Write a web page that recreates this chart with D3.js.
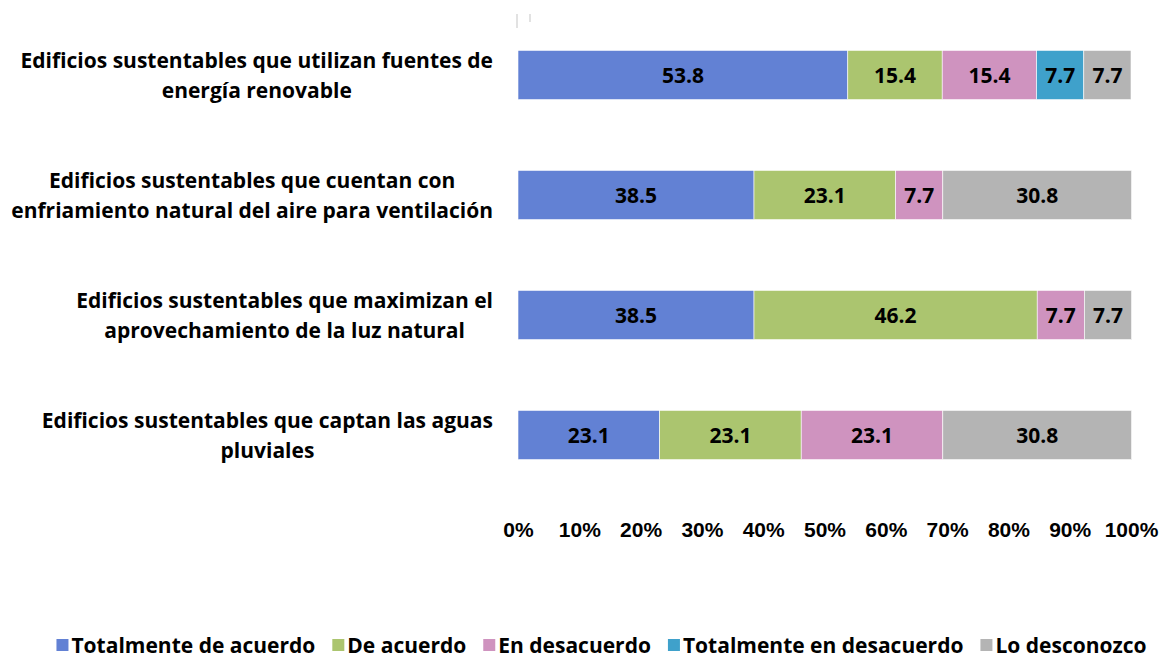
<!DOCTYPE html>
<html>
<head>
<meta charset="utf-8">
<script src="https://cdn.jsdelivr.net/npm/d3@7"></script>
<style>
  body { margin: 0; background: #fff; }
  svg { display: block; font-family: "Open Sans", sans-serif; font-weight: bold; }
</style>
</head>
<body>
<svg id="chart" width="1165" height="660"></svg>
<script>
const categories = [
    ["Edificios sustentables que utilizan fuentes de", "energía renovable"],
    ["Edificios sustentables que cuentan con", "enfriamiento natural del aire para ventilación"],
    ["Edificios sustentables que maximizan el", "aprovechamiento de la luz natural"],
    ["Edificios sustentables que captan las aguas", "pluviales"]
];
const seriesNames = ["Totalmente de acuerdo", "De acuerdo", "En desacuerdo", "Totalmente en desacuerdo", "Lo desconozco"];
const seriesColors = ["#6281d4", "#abc56f", "#cf93bf", "#3fa1cb", "#b4b4b4"];
const totalmenteDeAcuerdo = [53.8, 38.5, 38.5, 23.1];
const deAcuerdo = [15.4, 23.1, 46.2, 23.1];
const enDesacuerdo = [15.4, 7.7, 7.7, 23.1];
const totalmenteEnDesacuerdo = [7.7, 0, 0, 0];
const loDesconozco = [7.7, 30.8, 7.7, 30.8];
const tickValues = [0, 10, 20, 30, 40, 50, 60, 70, 80, 90, 100];

const seriesValues = [totalmenteDeAcuerdo, deAcuerdo, enDesacuerdo, totalmenteEnDesacuerdo, loDesconozco];

const svg = d3.select("#chart");

const x = d3.scaleLinear().domain([0, 100]).range([518, 1131]);
const y = d3.scaleBand()
    .domain(d3.range(categories.length))
    .range([15, 495])
    .paddingInner(0.59)
    .paddingOuter(0.295);

// faint marks at top
svg.append("rect").attr("x", 516).attr("y", 14).attr("width", 2).attr("height", 14).attr("fill", "#e2e2e2");
svg.append("rect").attr("x", 529).attr("y", 14).attr("width", 2).attr("height", 8).attr("fill", "#e2e2e2");

const rows = categories.map((c, i) => {
    let acc = 0;
    return seriesValues.map((vals, s) => {
        const seg = { row: i, s, x0: acc, x1: acc + vals[i], v: vals[i] };
        acc += vals[i];
        return seg;
    }).filter(d => d.v > 0);
});

const segs = rows.flat();

svg.append("g")
    .selectAll("rect")
    .data(segs)
    .join("rect")
    .attr("x", d => x(d.x0))
    .attr("y", d => y(d.row))
    .attr("width", d => x(d.x1) - x(d.x0))
    .attr("height", y.bandwidth())
    .attr("fill", d => seriesColors[d.s])
    .attr("stroke", "#fff")
    .attr("stroke-width", 0.6);

svg.append("g")
    .selectAll("text")
    .data(segs)
    .join("text")
    .attr("x", d => (x(d.x0) + x(d.x1)) / 2)
    .attr("y", d => y(d.row) + y.bandwidth() / 2)
    .attr("dy", "0.36em")
    .attr("text-anchor", "middle")
    .attr("font-size", 21)
    .attr("fill", "#000")
    .text(d => d.v.toFixed(1));

// category labels: block right-aligned, lines centered in block
const labelRight = 493;
categories.forEach((lines, i) => {
    const g = svg.append("g");
    const texts = lines.map((l, k) => g.append("text")
        .attr("y", y(i) + y.bandwidth() / 2 - 15 + k * 30)
        .attr("dy", "0.36em")
        .attr("text-anchor", "middle")
        .attr("font-size", 21)
        .attr("fill", "#000")
        .text(l));
    const w = d3.max(texts, t => t.node().getComputedTextLength());
    texts.forEach(t => t.attr("x", labelRight - w / 2));
});

// x axis tick labels
const xAxis = d3.axisBottom(x)
    .tickValues(tickValues)
    .tickSize(0)
    .tickPadding(0)
    .tickFormat(d => d + "%");
const ax = svg.append("g")
    .attr("transform", "translate(0,522)")
    .call(xAxis);
ax.select(".domain").remove();
ax.selectAll("text")
    .attr("font-size", 21)
    .attr("font-family", null)
    .attr("fill", "#000");

// legend: flow layout, fit into the reference span 48..1155
const legendLeft = 48, legendRight = 1155;
const legend = svg.append("g")
    .selectAll("g")
    .data(seriesNames)
    .join("g");
legend.append("rect")
    .attr("x", 0).attr("y", -6)
    .attr("width", 12).attr("height", 12)
    .attr("fill", (d, i) => seriesColors[i]);
const legendText = legend.append("text")
    .attr("x", 15)
    .attr("dy", "0.36em")
    .attr("font-size", 21)
    .attr("fill", "#000")
    .text(d => d);

let widths = legendText.nodes().map(n => n.getComputedTextLength());
const gap = 17;
const fixed = seriesNames.length * 15 + (seriesNames.length - 1) * gap;
const textSum = d3.sum(widths);
const avail = legendRight - legendLeft - fixed;
if (textSum > avail) {
    const k = avail / textSum;
    legendText.attr("font-size", 21 * k);
    widths = legendText.nodes().map(n => n.getComputedTextLength());
}
const total = fixed + d3.sum(widths);
let cx = (legendLeft + legendRight) / 2 - total / 2;
legend.each(function(d, i) {
    d3.select(this).attr("transform", `translate(${cx},645)`);
    cx += 15 + widths[i] + gap;
});
</script>
</body>
</html>
